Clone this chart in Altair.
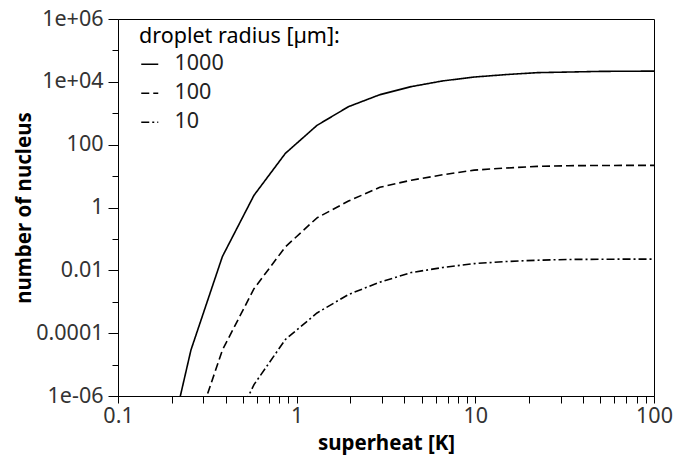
import math
import altair as alt
import pandas as pd

# ---- data ----
superheat = [0.17, 0.256, 0.384, 0.577, 0.865, 1.3, 1.95, 2.92, 4.38, 6.57,
             9.85, 14.8, 22.2, 33.3, 50, 75, 100]
n_1000 = [1.2e-9, 2.9e-5, 0.0275, 2.45, 53, 412, 1620, 3900, 7050, 10700,
          14200, 17000, 19600, 20500, 21500, 21800, 21900]
n_100 = [1e-13, 3.2e-8, 2.9e-5, 0.0026, 0.056, 0.47, 1.6, 4.4, 7.4, 11,
         15.5, 18, 20.4, 21.4, 21.7, 22, 22]
n_10 = [1e-16, 1e-11, 2e-8, 2.3e-6, 6.3e-5, 4.4e-4, 1.7e-3, 4.2e-3, 8.5e-3, 0.0123,
        0.0164, 0.019, 0.021, 0.0222, 0.0225, 0.0228, 0.0228]
radius_labels = ["1000", "100", "10"]

x_ticks = [0.1, 0.2, 0.3, 0.4, 0.5, 0.6, 0.7, 0.8, 0.9,
           1, 2, 3, 4, 5, 6, 7, 8, 9,
           10, 20, 30, 40, 50, 60, 70, 80, 90, 100]
x_major_exp = [-1, 0, 1, 2]
x_major_labels = ["0.1", "1", "10", "100"]

y_ticks = [1e-6, 1e-5, 1e-4, 1e-3, 1e-2, 1e-1, 1, 10, 100, 1e3, 1e4, 1e5, 1e6]
y_major_exp = [6, 4, 2, 0, -2, -4, -6]
y_major_labels = ["1e+06", "1e+04", "100", "1", "0.01", "0.0001", "1e-06"]

rows = []
for r, vals in zip(radius_labels, [n_1000, n_100, n_10]):
    for x, v in zip(superheat, vals):
        rows.append({"superheat": x, "n": v, "radius": r})
df = pd.DataFrame(rows)

EXP = "round(log(datum.value)/LN10)"
ISDEC = f"abs(log(datum.value)/LN10 - {EXP}) < 0.001"

x_expr = f"{ISDEC} ? (" + "".join(
    f"{EXP}=={e} ? '{lab}' : " for e, lab in zip(x_major_exp, x_major_labels)) + "'') : ''"
y_expr = "".join(f"{EXP}=={e} ? '{lab}' : " for e, lab in zip(y_major_exp, y_major_labels)) + "''"

FONT = "Noto Sans"
FS = 21.5
PL, PT, PR, PB = 110, 11, 20, 59
W, H = 536, 377

x_axis = alt.Axis(
    values=x_ticks, labelExpr=x_expr, grid=False, tickSize=7, labelPadding=2,
    labelFontSize=FS, labelFont=FONT, labelColor="#333", labelOverlap=False,
    labelFlush=False, domainColor="black", tickColor="black",
    title="superheat [K]", titleFont=FONT, titleFontSize=20.5, titleFontWeight="bold",
    titleColor="black", titleY=53, titleBaseline="alphabetic",
)
y_axis = alt.Axis(
    values=y_ticks, labelExpr=y_expr, grid=False,
    tickSize={"condition": {"test": f"abs({EXP}) % 2 == 0", "value": 10}, "value": 6},
    labelPadding=5, labelFontSize=FS, labelFont=FONT, labelColor="#333",
    labelOverlap=False, labelFlush=False, domainColor="black", tickColor="black",
    title="number of nucleus", titleFont=FONT, titleFontSize=20.5, titleFontWeight="bold",
    titleColor="black", titleX=-88, titleY=H / 2, titleBaseline="alphabetic",
    titleAngle=270,
)

chart = alt.Chart(df).mark_line(color="black", strokeWidth=1.6, clip=True).encode(
    x=alt.X("superheat:Q", scale=alt.Scale(type="log", domain=[0.1, 100], nice=False),
            axis=x_axis),
    y=alt.Y("n:Q", scale=alt.Scale(type="log", domain=[1e-6, 1e6], nice=False),
            axis=y_axis),
    strokeDash=alt.StrokeDash(
        "radius:N",
        scale=alt.Scale(domain=radius_labels, range=[[1, 0], [8, 4], [8, 3, 2, 3]]),
        legend=alt.Legend(
            title="droplet radius [µm]:", orient="none", legendX=21, legendY=7,
            titleFont=FONT, titleFontSize=FS, titleFontWeight="normal", titleColor="black",
            labelFont=FONT, labelFontSize=FS, labelColor="#222",
            symbolType="stroke", symbolSize=289, symbolStrokeWidth=1.6,
            symbolStrokeColor="black", labelOffset=14, rowPadding=6, titlePadding=6,
            padding=0, titleLimit=400,
        ),
    ),
    order=alt.Order("superheat:Q"),
).properties(
    width=W, height=H,
    autosize=alt.AutoSizeParams(type="none"),
    padding={"left": PL, "top": PT, "right": PR, "bottom": PB},
).configure_view(stroke="black", strokeWidth=1)

chart.save("out.html", embed_options={"renderer": "svg", "actions": False})
